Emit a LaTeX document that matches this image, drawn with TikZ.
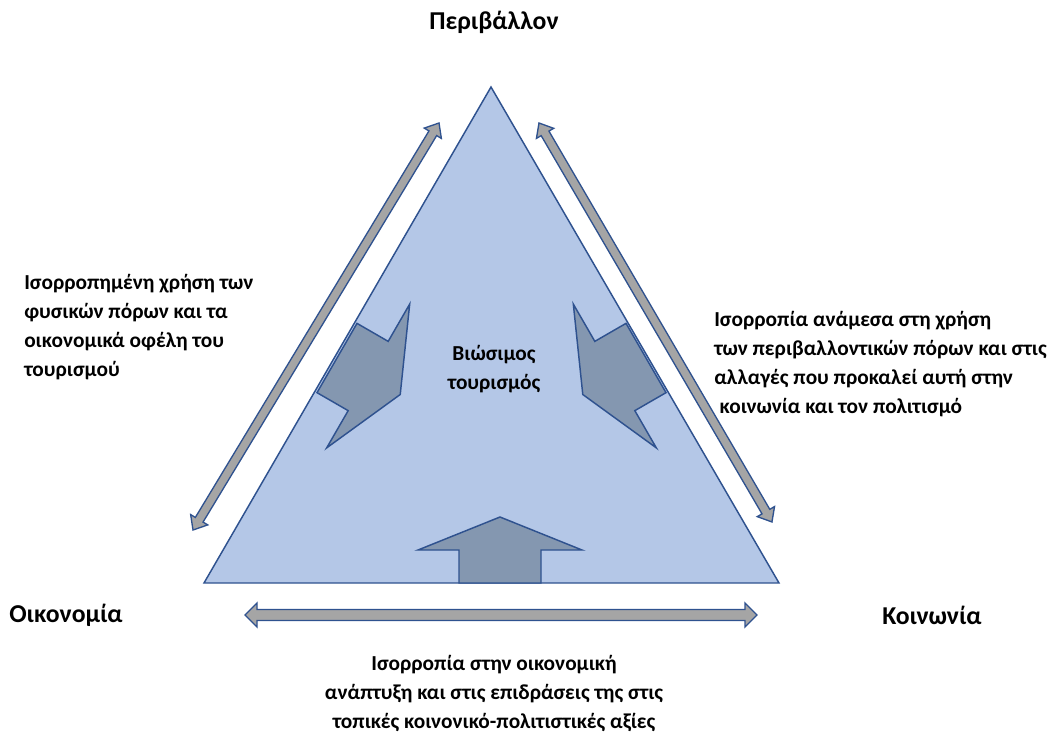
\documentclass[tikz,border=0pt]{standalone}
\usepackage{fontspec}
\setmainfont{Carlito}
\definecolor{triFill}{RGB}{180,199,231}
\definecolor{edgeBlue}{RGB}{47,82,143}
\definecolor{blockFill}{RGB}{132,151,176}
\definecolor{barFill}{RGB}{165,165,165}
\tikzset{
  note text/.style={font=\bfseries\fontsize{16}{21.75}\selectfont, inner sep=0pt},
  corner text/.style={font=\bfseries\fontsize{19.3}{22}\selectfont, inner sep=0pt},
  block arrow/.style={draw=edgeBlue, fill=blockFill, line width=1.1pt, line join=miter},
  bar arrow/.style={draw=edgeBlue, fill=barFill, line width=1pt, line join=miter},
}
\begin{document}
\begin{tikzpicture}[x=0.75pt,y=0.75pt,yscale=-1,xscale=1]
\useasboundingbox (0,0) rectangle (1052,732);
% triangle corners
\coordinate (apex) at (491,87);
\coordinate (baseL) at (204,583);
\coordinate (baseR) at (779,583);
\draw [draw=edgeBlue, fill=triFill, line width=1.1pt] (apex) -- (baseL) -- (baseR) -- cycle;
% block arrows pointing inwards
\coordinate (inL) at (337,358);
\coordinate (inR) at (646,358);
\coordinate (inB) at (500,583);
\begin{scope}[shift={(inL)},rotate=30]
\draw [block arrow] (0,-40) -- (36,-40) -- (36,-83) -- (73,0) -- (36,83) -- (36,40) -- (0,40) -- cycle;
\end{scope}
\begin{scope}[shift={(inR)},rotate=150]
\draw [block arrow] (0,-40) -- (36,-40) -- (36,-83) -- (73,0) -- (36,83) -- (36,40) -- (0,40) -- cycle;
\end{scope}
\begin{scope}[shift={(inB)},rotate=-90]
\draw [block arrow] (0,-41) -- (33,-41) -- (33,-82) -- (66,0) -- (33,82) -- (33,41) -- (0,41) -- cycle;
\end{scope}
% double arrows along the sides
\coordinate (ecoL) at (193,530);
\coordinate (envR) at (539,123);
\coordinate (ecoB) at (245,615);
\begin{scope}[shift={(ecoL)},rotate=-58.85]
\draw [bar arrow] (0,0) -- (12,-10) -- (12,-4.5) -- (463.6,-4.5) -- (463.6,-10) -- (475.6,0) -- (463.6,10) -- (463.6,4.5) -- (12,4.5) -- (12,10) -- cycle;
\end{scope}
\begin{scope}[shift={(envR)},rotate=59.72]
\draw [bar arrow] (0,0) -- (12,-10) -- (12,-4.5) -- (450,-4.5) -- (450,-10) -- (462,0) -- (450,10) -- (450,4.5) -- (12,4.5) -- (12,10) -- cycle;
\end{scope}
\begin{scope}[shift={(ecoB)}]
\draw [bar arrow] (0,0) -- (12,-12) -- (12,-5.5) -- (500,-5.5) -- (500,-12) -- (512,0) -- (500,12) -- (500,5.5) -- (12,5.5) -- (12,12) -- cycle;
\end{scope}
% labels
\node [corner text] (env) at (494,22) {Περιβάλλον};
\node [corner text] (eco) at (66,615) {Οικονομία};
\node [corner text] (soc) at (932,615) {Κοινωνία};
\node [note text, align=center] (centre) at (494,369) {Βιώσιμος\\τουρισμός};
\node [note text, anchor=west, align=left] (leftnote) at (24,327) {Ισορροπημένη χρήση των\\φυσικών πόρων και τα\\οικονομικά οφέλη του\\τουρισμού};
\node [note text, anchor=west, align=left] (rightnote) at (714,364) {Ισορροπία ανάμεσα στη χρήση\\των περιβαλλοντικών πόρων και στις\\αλλαγές που προκαλεί αυτή στην\\\hspace*{4pt}κοινωνία και τον πολιτισμό};
\node [note text, align=center] (bottomnote) at (494,693) {Ισορροπία στην οικονομική\\ανάπτυξη και στις επιδράσεις της στις\\τοπικές κοινονικό-πολιτιστικές αξίες};
\end{tikzpicture}
\end{document}
